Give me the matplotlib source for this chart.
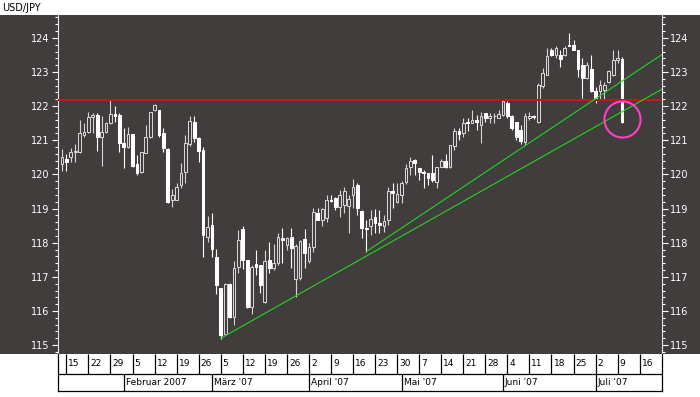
import numpy as np
import pandas as pd
import matplotlib
matplotlib.use("Agg")
import matplotlib.pyplot as plt
from matplotlib.patches import Rectangle
from matplotlib.ticker import MultipleLocator

plt.rcParams['font.family'] = ['DejaVu Sans']

# ---------------- data ----------------
title = "USD/JPY"
start_date = "2007-01-12"
end_date = "2007-07-10"
axis_end_date = "2007-07-20"

opens = [120.30, 120.45, 120.52, 120.66, 120.67, 121.16, 121.25, 121.68, 121.74, 121.10,
         121.25, 121.50, 121.76, 121.74, 120.91, 120.81, 121.18, 120.30, 120.07, 120.62,
         121.10, 121.90, 121.90, 121.20, 120.74, 119.25, 119.25, 119.69, 120.08, 120.88,
         121.55, 121.08, 120.72, 118.17, 118.52, 117.57, 116.66, 115.34, 116.79, 115.83,
         117.30, 118.39, 117.49, 116.13, 117.37, 117.35, 116.27, 117.48, 117.25, 117.40,
         118.13, 117.93, 118.16, 116.93, 116.96, 118.10, 117.45, 117.88, 118.86, 118.67,
         118.72, 119.25, 119.32, 119.06, 119.10, 119.08, 119.40, 119.69, 118.93, 118.44,
         118.50, 118.76, 118.57, 118.50, 118.66, 119.50, 119.18, 119.40, 119.77, 120.23,
         120.42, 120.18, 120.08, 120.03, 120.05, 119.79, 120.23, 120.40, 120.23, 120.82,
         121.26, 121.20, 121.55, 121.52, 121.60, 121.45, 121.79, 121.65, 121.70, 121.65,
         121.75, 122.09, 121.70, 121.55, 121.30, 120.95, 121.65, 121.72, 121.55, 122.58,
         122.92, 123.65, 123.50, 123.50, 123.50, 123.80, 123.80, 123.65, 123.20, 122.82,
         123.10, 122.45, 122.43, 122.48, 122.72, 122.92, 123.36, 123.38]
highs = [120.75, 120.60, 120.76, 120.90, 121.58, 121.50, 121.82, 121.80, 121.80, 121.70,
         121.55, 122.19, 122.00, 121.80, 121.35, 121.40, 121.18, 120.57, 120.66, 121.45,
         121.83, 122.07, 121.90, 121.37, 120.77, 119.56, 119.74, 120.33, 121.16, 121.70,
         121.70, 121.11, 120.79, 118.79, 118.86, 117.83, 116.66, 116.81, 116.83, 117.46,
         118.37, 118.49, 117.49, 117.35, 117.79, 117.35, 117.79, 118.03, 117.96, 118.28,
         118.42, 118.16, 118.42, 117.95, 118.08, 118.39, 117.98, 119.01, 119.01, 119.01,
         119.40, 119.40, 119.35, 119.54, 119.64, 119.40, 119.87, 119.74, 118.96, 118.66,
         118.96, 118.99, 118.96, 118.81, 119.64, 119.74, 119.74, 119.81, 120.30, 120.52,
         120.45, 120.20, 120.13, 120.05, 120.57, 120.23, 120.44, 120.59, 120.85, 121.35,
         121.35, 121.65, 121.65, 121.89, 121.74, 121.84, 121.79, 121.79, 121.80, 121.89,
         122.20, 122.14, 121.74, 121.55, 121.45, 121.79, 121.84, 121.75, 122.67, 123.11,
         123.70, 123.70, 123.75, 123.65, 123.75, 124.14, 123.94, 123.65, 123.40, 123.30,
         123.50, 122.55, 122.77, 122.72, 123.07, 123.65, 123.65, 123.45]
lows = [120.10, 120.10, 120.37, 120.37, 120.62, 121.10, 121.20, 121.20, 120.70, 120.25,
        121.20, 121.48, 121.55, 120.67, 120.18, 120.76, 120.22, 119.98, 120.03, 120.62,
        121.08, 121.85, 121.10, 120.67, 119.15, 119.06, 119.25, 119.61, 119.74, 120.84,
        120.96, 120.37, 117.59, 118.03, 117.59, 116.51, 115.19, 115.29, 115.80, 115.59,
        117.10, 117.22, 116.08, 115.90, 117.05, 116.52, 116.24, 117.10, 117.20, 117.35,
        117.40, 117.79, 117.25, 116.42, 116.91, 117.25, 117.40, 117.74, 118.67, 118.49,
        118.62, 119.20, 118.96, 118.76, 118.86, 118.27, 119.01, 118.81, 118.15, 117.74,
        118.22, 118.27, 118.27, 118.32, 118.52, 119.01, 119.15, 119.15, 119.71, 119.98,
        119.98, 119.85, 119.60, 119.69, 119.79, 119.60, 120.23, 120.18, 120.18, 120.72,
        121.01, 121.11, 121.26, 121.50, 121.30, 120.91, 121.55, 121.50, 121.50, 121.65,
        121.70, 121.65, 121.30, 121.01, 120.90, 120.86, 121.60, 121.62, 121.50, 122.53,
        122.92, 123.46, 123.41, 123.16, 123.48, 123.75, 123.65, 122.85, 122.25, 122.80,
        122.40, 122.10, 122.18, 122.18, 122.67, 122.87, 123.26, 121.50]
closes = [120.50, 120.35, 120.67, 120.69, 121.20, 121.25, 121.68, 121.74, 121.10, 121.25,
          121.52, 121.76, 121.70, 120.91, 120.81, 121.18, 120.25, 120.05, 120.66, 121.10,
          121.83, 122.04, 121.16, 120.76, 119.20, 119.40, 119.64, 120.03, 120.91, 121.57,
          121.08, 120.69, 118.22, 118.47, 117.83, 116.76, 115.29, 116.79, 115.83, 117.25,
          118.08, 117.49, 116.13, 117.30, 117.30, 116.76, 117.45, 117.25, 117.40, 118.16,
          118.08, 118.13, 117.84, 117.90, 118.06, 117.69, 117.88, 118.91, 118.67, 118.98,
          119.25, 119.22, 119.06, 119.40, 119.50, 119.28, 119.64, 119.01, 118.44, 118.40,
          118.69, 118.57, 118.52, 118.64, 119.50, 119.45, 119.42, 119.74, 120.20, 120.39,
          120.33, 120.08, 120.03, 119.89, 119.84, 120.23, 120.40, 120.23, 120.85, 121.26,
          121.19, 121.50, 121.52, 121.60, 121.53, 121.72, 121.65, 121.70, 121.72, 121.77,
          122.15, 121.70, 121.35, 121.11, 120.98, 121.70, 121.72, 121.67, 122.62, 122.97,
          123.46, 123.50, 123.70, 123.38, 123.70, 123.75, 123.65, 123.10, 122.82, 123.20,
          122.45, 122.20, 122.62, 122.62, 123.02, 123.36, 123.41, 121.55]

resistance_level = 122.18
lower_trend = [("2007-03-05", 115.20), ("2007-03-28", 116.44)]
upper_trend = [("2007-04-19", 117.74), ("2007-06-08", 120.84)]
circle_center = ("2007-07-10", 121.62)

week_starts = pd.date_range("2007-01-15", "2007-07-16", freq="7D")
day_labels = ["15", "22", "29", "5", "12", "19", "26", "5", "12", "19", "26", "2", "9",
              "16", "23", "30", "7", "14", "21", "28", "4", "11", "18", "25", "2", "9", "16"]
month_starts = ["2007-02-01", "2007-03-01", "2007-04-02", "2007-05-01", "2007-06-01", "2007-07-02"]
month_labels = ["Februar 2007", "März '07", "April '07", "Mai '07", "Juni '07", "Juli '07"]

# ---------------- styling ----------------
W, H = 700, 397
bg = "#403d3c"
up_col = "#d4d4d4"
dn_col = "#ffffff"
red = "#c8141c"
green = "#22d422"
magenta = "#ff40c8"

cal = pd.bdate_range(start_date, axis_end_date)
pos = {d: k for k, d in enumerate(cal)}
cdates = cal[cal <= pd.Timestamp(end_date)]
x = np.array([pos[d] for d in cdates], dtype=float)
o, hi, lo, c = map(np.array, (opens, highs, lows, closes))

def px_x(p):
    return p / W

def px_y(p):
    return 1 - p / H

fig = plt.figure(figsize=(W / 100, H / 100), dpi=100, facecolor="white")
# dark band
fig.add_artist(Rectangle((0, px_y(354)), 1, (354 - 15) / H, transform=fig.transFigure,
                         facecolor=bg, edgecolor="none", zorder=0))

ax = fig.add_axes([px_x(58), px_y(354), (662 - 58) / W, (354 - 15) / H])
ax.set_facecolor(bg)
xl = (-0.9, 136.06)
ax.set_xlim(*xl)
ax.set_ylim(114.74, 124.67)

up = c >= o
wick_cols = np.where(up, up_col, dn_col)
ax.vlines(x, lo, hi, colors=wick_cols, lw=0.8, zorder=2)
ax.bar(x[up], np.maximum((c - o)[up], 0.01), bottom=o[up], width=0.62,
       facecolor=bg, edgecolor=up_col, lw=0.75, zorder=3)
ax.bar(x[~up], np.maximum((o - c)[~up], 0.01), bottom=c[~up], width=0.62,
       facecolor=dn_col, edgecolor=dn_col, lw=0.75, zorder=3)

ax.axhline(resistance_level, color=red, lw=1.5, zorder=4)

for anchors in (lower_trend, upper_trend):
    (d1, p1), (d2, p2) = anchors
    x1, x2 = pos[pd.Timestamp(d1)], pos[pd.Timestamp(d2)]
    slope = (p2 - p1) / (x2 - x1)
    xe = xl[1]
    ax.plot([x1, xe], [p1, p1 + slope * (xe - x1)], color=green, lw=0.8, zorder=5)

ax.plot([pos[pd.Timestamp(circle_center[0])]], [circle_center[1]], marker="o", ms=26,
        mfc="none", mec=magenta, mew=1.5, zorder=6)

ax.yaxis.set_major_locator(MultipleLocator(1))
ax.yaxis.set_minor_locator(MultipleLocator(0.2))
ax.set_yticks(np.arange(115, 125, 1))
ax.tick_params(axis="y", which="both", left=True, right=True, labelleft=True, labelright=True,
               colors="white", direction="out", labelsize=7)
ax.tick_params(axis="y", which="major", length=4, width=0.8, pad=2)
ax.tick_params(axis="y", which="minor", length=2.2, width=0.8)
ax.tick_params(axis="x", which="both", bottom=False, labelbottom=False)
for s in ("top", "bottom"):
    ax.spines[s].set_visible(False)
for s in ("left", "right"):
    ax.spines[s].set_color("#e8e8e8")
    ax.spines[s].set_linewidth(0.8)

fig.text(px_x(2), px_y(8), title, fontsize=7, color="black", va="center", ha="left")

# ---------------- date axis ----------------
axd = fig.add_axes([px_x(58), px_y(391), (662 - 58) / W, (391 - 354) / H])
axd.set_xlim(*xl)
axd.set_ylim(0, 37)
axd.set_facecolor("white")
axd.set_xticks([])
axd.set_yticks([])
for s in ("left", "right", "bottom"):
    axd.spines[s].set_color("black")
    axd.spines[s].set_linewidth(0.9)
axd.spines["top"].set_visible(False)
axd.axhline(17, color="black", lw=0.9)

wk = np.array([pos[d] for d in week_starts], dtype=float)
axd.vlines(wk, 17, 37, colors="black", lw=0.9)
for xx, lab in zip(wk, day_labels):
    axd.text(xx + 0.45, 27, lab, fontsize=6.5, va="center", ha="left", color="black")

ms = np.array([pos[pd.Timestamp(d)] for d in month_starts], dtype=float)
axd.vlines(ms, 0, 17, colors="black", lw=0.9)
for xx, lab in zip(ms, month_labels):
    axd.text(xx + 0.45, 8.5, lab, fontsize=6.5, va="center", ha="left", color="black")

fig.savefig("out.png", dpi=100, facecolor="white")
